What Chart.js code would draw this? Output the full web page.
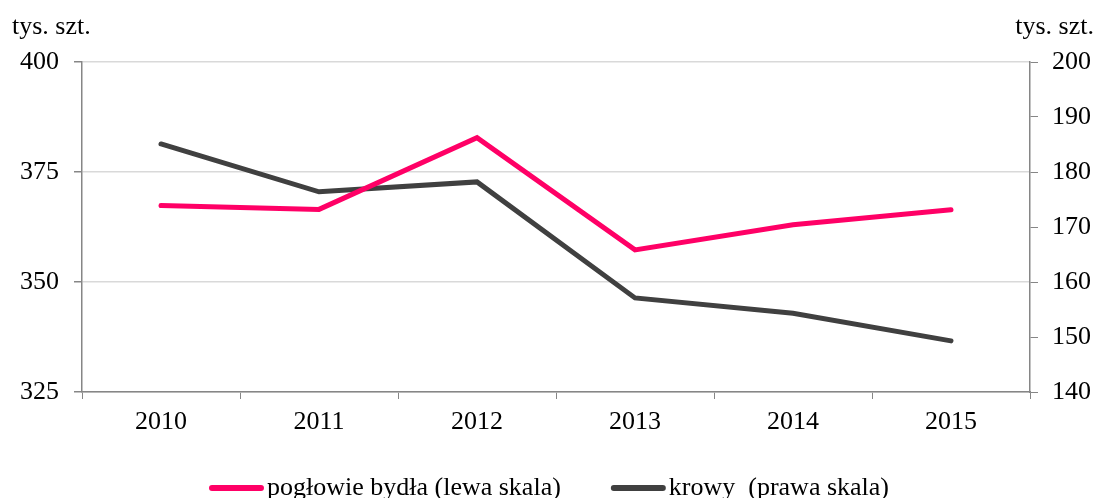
<!DOCTYPE html>
<html>
<head>
<meta charset="utf-8">
<script src="https://cdn.jsdelivr.net/npm/chart.js@4/dist/chart.umd.min.js"></script>
<style>
  html, body { margin: 0; padding: 0; background: #fff; }
  #wrap { width: 1098px; height: 498px; }
</style>
</head>
<body>
<div id="wrap"><canvas id="chart"></canvas></div>
<script>
const years = ['2010', '2011', '2012', '2013', '2014', '2015'];
const cattle = [367.4, 366.5, 382.8, 357.3, 363.0, 366.4];
const cows = [185.1, 176.4, 178.2, 157.1, 154.3, 149.3];
const leftTicks = [325, 350, 375, 400];
const rightTicks = [140, 150, 160, 170, 180, 190, 200];
const unitLabel = 'tys. szt.';

const FONT = "'Liberation Serif', 'Times New Roman', serif";
const SIZE = 26;
const axisGray = '#868686';

// unit captions and legend drawn on top
const extras = {
  id: 'extras',
  afterDraw(chart) {
    const ctx = chart.ctx;
    ctx.save();
    ctx.font = SIZE + 'px ' + FONT;
    ctx.fillStyle = '#000';
    ctx.textBaseline = 'middle';
    ctx.textAlign = 'left';
    ctx.fillText(unitLabel, 12, 27);
    ctx.textAlign = 'right';
    ctx.fillText(unitLabel, 1094, 27);

    // legend
    const items = chart.data.datasets.map((ds) => ({
      label: ds.label, color: ds.borderColor, w: ctx.measureText(ds.label).width
    }));
    const lineW = 55, textGap = 3, gap = 50;
    const total = items.reduce((s, it) => s + lineW + textGap + it.w, 0) + gap * (items.length - 1);
    let x = (chart.width - total) / 2;
    const y = 488;
    ctx.textAlign = 'left';
    items.forEach((it) => {
      ctx.strokeStyle = it.color;
      ctx.lineWidth = 6;
      ctx.lineCap = 'round';
      ctx.beginPath();
      ctx.moveTo(x + 3, y);
      ctx.lineTo(x + lineW - 3, y);
      ctx.stroke();
      ctx.fillStyle = '#000';
      ctx.fillText(it.label, x + lineW + textGap, y);
      x += lineW + textGap + it.w + gap;
    });
    ctx.restore();
  }
};

new Chart(document.getElementById('chart'), {
  type: 'line',
  data: {
    labels: years,
    datasets: [
      {
        label: 'pogłowie bydła (lewa skala)',
        data: cattle,
        yAxisID: 'y',
        borderColor: '#ff0066',
        borderWidth: 5,
        borderCapStyle: 'round',
        pointRadius: 0,
        tension: 0
      },
      {
        label: 'krowy  (prawa skala)',
        data: cows,
        yAxisID: 'y1',
        borderColor: '#404040',
        borderWidth: 5,
        borderCapStyle: 'round',
        pointRadius: 0,
        tension: 0
      }
    ]
  },
  options: {
    responsive: true,
    maintainAspectRatio: false,
    animation: false,
    layout: { padding: { top: 62, left: 0, right: 0, bottom: 0 } },
    plugins: { legend: { display: false }, tooltip: { enabled: false } },
    scales: {
      x: {
        offset: true,
        grid: { drawOnChartArea: false, offset: true, color: axisGray, tickLength: 7 },
        border: { color: axisGray, width: 1.5 },
        ticks: { color: '#000', font: { family: FONT, size: SIZE }, padding: 8, maxRotation: 0 },
        afterFit(scale) { scale.height = 106; }
      },
      y: {
        position: 'left',
        min: 325, max: 400,
        afterBuildTicks(scale) { scale.ticks = leftTicks.map((v) => ({ value: v })); },
        grid: { color: '#d9d9d9', lineWidth: 1.5, tickColor: axisGray, tickLength: 8 },
        border: { color: axisGray, width: 1.5 },
        ticks: { color: '#000', font: { family: FONT, size: SIZE }, padding: 15 },
        afterFit(scale) { scale.width = 82; }
      },
      y1: {
        position: 'right',
        min: 140, max: 200,
        afterBuildTicks(scale) { scale.ticks = rightTicks.map((v) => ({ value: v })); },
        grid: { drawOnChartArea: false, color: axisGray, tickLength: 8 },
        border: { color: axisGray, width: 1.5 },
        ticks: { color: '#000', font: { family: FONT, size: SIZE }, padding: 14 },
        afterFit(scale) { scale.width = 68; }
      }
    }
  },
  plugins: [extras]
});
</script>
</body>
</html>
